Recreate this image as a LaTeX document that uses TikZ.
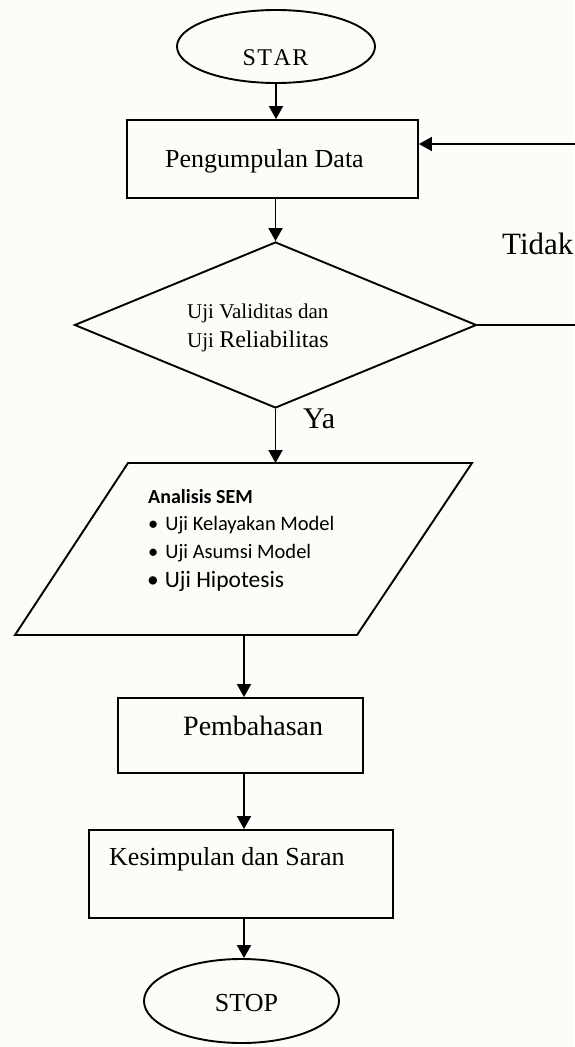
\documentclass[tikz,border=0pt]{standalone}
\usepackage{fontspec}
\setmainfont{Liberation Serif}
\newfontfamily\calibri{Carlito}
\usetikzlibrary{arrows.meta,shapes.geometric,calc}
\definecolor{bg}{RGB}{252,252,248}
\begin{document}
\begin{tikzpicture}[x=1pt,y=-1pt,
  line/.style={line width=1.9pt,draw=black,line join=miter},
  arr/.style={line width=1.9pt,draw=black,-{Triangle[length=13pt,width=14pt]}},
  box/.style={draw=black,line width=1.9pt,rectangle,inner sep=0pt},
  oval/.style={draw=black,line width=1.9pt,ellipse,inner sep=0pt},
  dia/.style={draw=black,line width=1.9pt,diamond,inner sep=0pt,line join=miter},
  txt/.style={inner sep=0pt,anchor=base west},
  ctxt/.style={inner sep=0pt,anchor=base},
  tnr/.style={font=\fontsize{#1}{#1}\selectfont},
  cal/.style={font=\calibri\fontsize{#1}{#1}\selectfont}]
\useasboundingbox[fill=bg] (0,0) rectangle (574,1047);

% start
\node[oval,minimum width=198pt,minimum height=73pt] (st) at (276,46.5) {};
\node[ctxt,tnr=24] (stt) at (275.5,65) {S\kern1.5pt T\kern1.5pt A\kern1.5pt R};

% data collection
\node[box,minimum width=291pt,minimum height=78pt] (pd) at (272.5,159) {};
\node[txt,tnr=26] (pdt) at (165,167) {Pengumpulan Data};

% decision
\node[dia,minimum width=402pt,minimum height=166pt] (d) at (275.5,325) {};
\node[txt,tnr=21] (dt1) at (187,318) {Uji Validitas dan};
\node[txt,tnr=21] (dt2) at (187,347) {Uji {\fontsize{24}{24}\selectfont Reliabilitas}};
\node[txt,tnr=31] (tidak) at (502,254) {Tidak};
\node[txt,tnr=30] (ya) at (303,428) {Ya};

% parallelogram
\coordinate (pTL) at (128,463);
\coordinate (pTR) at (472,463);
\coordinate (pBR) at (357,635);
\coordinate (pBL) at (15,635);
\coordinate (pTop) at (276,463);
\coordinate (pBot) at (244,635);
\draw[line] (pTL) -- (pTR) -- (pBR) -- (pBL) -- cycle;
\node[txt,font=\calibri\bfseries\fontsize{20}{20}\selectfont] (sem) at (148,503) {Analisis SEM};
\node[txt,cal=20.5] (b1) at (148,530) {\textbullet\hspace{7pt}Uji Kelayakan Model};
\node[txt,cal=20.5] (b2) at (148,558) {\textbullet\hspace{7pt}Uji Asumsi Model};
\node[txt,cal=23.5] (b3) at (147,587) {\textbullet\hspace{6pt}Uji Hipotesis};

% discussion
\node[box,minimum width=245pt,minimum height=75pt] (pb) at (240.5,735.5) {};
\node[txt,tnr=28] (pbt) at (183,735) {Pembahasan};

% conclusion
\node[box,minimum width=304pt,minimum height=88pt] (ks) at (241,874) {};
\node[txt,tnr=26] (kst) at (109,865) {Kesimpulan dan Saran};

% stop
\node[oval,minimum width=195pt,minimum height=84pt] (sp) at (241.5,1001) {};
\node[ctxt,tnr=26] (spt) at (246.5,1011) {STOP};

% connectors
\coordinate (rb) at (577,325);
\coordinate (rt) at (577,144);
\draw[arr] (st.south) -- (st.south |- pd.north);
\draw[arr] (pd.south -| d.north) -- (d.north);
\draw[arr] (d.east) -- (rb) -- (rt) -- (rt -| pd.east);
\draw[arr] (d.south) -- (d.south |- pTop);
\draw[arr] (pBot) -- (pBot |- pb.north);
\draw[arr] (pb.south -| pBot) -- (pBot |- ks.north);
\draw[arr] (ks.south -| pBot) -- (pBot |- sp.north);
\end{tikzpicture}
\end{document}
